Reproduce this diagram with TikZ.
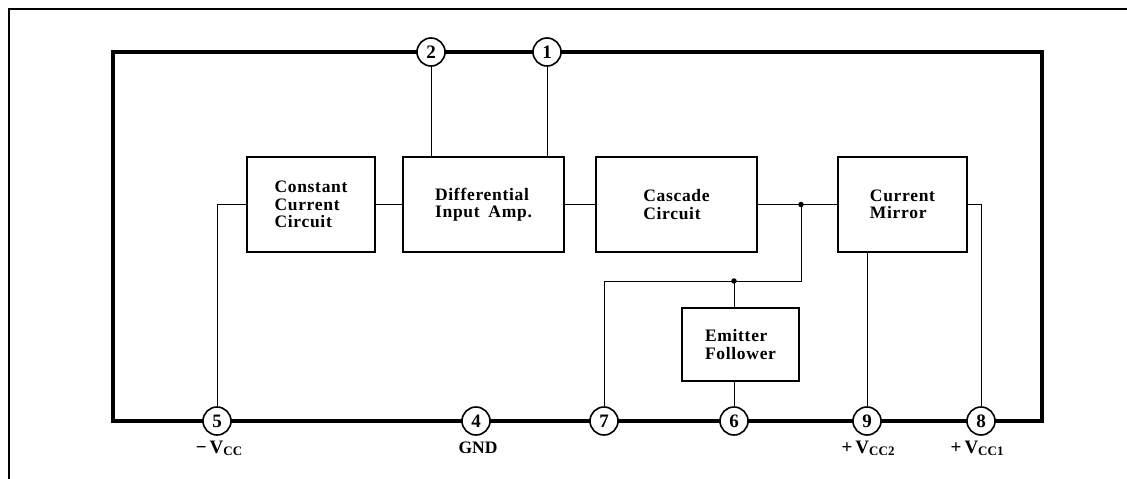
\documentclass[tikz,border=0pt]{standalone}
\usepackage{fontspec}
\setmainfont{Liberation Serif}
\newfontfamily\spacedfont[LetterSpace=4]{Liberation Serif}
\newcommand\vsubx[1]{\raisebox{-2pt}{\fontsize{13}{13}\selectfont #1}}
\begin{document}
\begin{tikzpicture}[x=1pt,y=-1pt,
  blk/.style={draw,line width=2.8pt,rectangle,align=left,inner sep=0pt,
    font=\spacedfont\fontsize{17.5}{17.5}\selectfont\bfseries},
  pin/.style={draw,circle,line width=1.6pt,fill=white,minimum size=28pt,inner sep=0pt,
    font=\fontsize{19}{19}\selectfont\bfseries},
  thin/.style={line width=1pt},
  main/.style={line width=3.2pt},
  lbl/.style={anchor=base,inner sep=0pt,font=\fontsize{19}{19}\selectfont\bfseries},
  dot/.style={circle,fill=black,inner sep=0pt,minimum size=5.5pt}]
\useasboundingbox (0,0) rectangle (1127,479);
\fill[white] (0,0) rectangle (1127,479);
% outer frame (left and top only)
\draw[line width=1.1pt] (9,479) -- (9,9) -- (1127,9);
% main thick rectangle
\draw[main] (113,52) rectangle (1042,421);
% blocks
\node[blk,minimum width=128pt,minimum height=95pt] (cc) at (311,204.5) {Constant\\Current\\Circuit};
\node[blk,minimum width=161pt,minimum height=95pt] (diff) at (483.5,204.5) {Differential\\Input\enspace Amp.};
\node[blk,minimum width=161pt,minimum height=95pt] (casc) at (676.5,204.5) {Cascade\\Circuit};
\node[blk,minimum width=129pt,minimum height=95pt] (cm) at (902.5,204.5) {Current\\Mirror};
\node[blk,minimum width=117pt,minimum height=73pt] (ef) at (740.5,344.5) {Emitter\\Follower};
% pins
\node[pin] (p2) at (431,52) {2};
\node[pin] (p1) at (547,52) {1};
\node[pin] (p5) at (217,421) {5};
\node[pin] (p4) at (476,421) {4};
\node[pin] (p7) at (604,421) {7};
\node[pin] (p6) at (734,421) {6};
\node[pin] (p9) at (867,421) {9};
\node[pin] (p8) at (981,421) {8};
% junctions
\coordinate (j1) at (801,204.5);
\coordinate (j2) at (734,281);
% connectors
\draw[thin] (p5.north) |- (cc.west);
\draw[thin] (cc.east) -- (diff.west);
\draw[thin] (diff.east) -- (casc.west);
\draw[thin] (casc.east) -- (cm.west);
\draw[thin] (p2.south) -- (p2 |- diff.north);
\draw[thin] (p1.south) -- (p1 |- diff.north);
\draw[thin] (j1) -- (j1 |- j2) -| (p7.north);
\draw[thin] (j2) -- (j2 |- ef.north);
\draw[thin] (p6 |- ef.south) -- (p6.north);
\draw[thin] (p9 |- cm.south) -- (p9.north);
\draw[thin] (cm.east) -| (p8.north);
\node[dot] at (j1) {};
\node[dot] at (j2) {};
% labels
\node[lbl] at (219,453) {−\,V\vsubx{CC}};
\node[lbl,font=\fontsize{17.5}{17.5}\selectfont\bfseries] at (478,453) {GND};
\node[lbl] at (868,453) {+\,V\vsubx{CC2}};
\node[lbl] at (977,453) {+\,V\vsubx{CC1}};
\end{tikzpicture}
\end{document}
